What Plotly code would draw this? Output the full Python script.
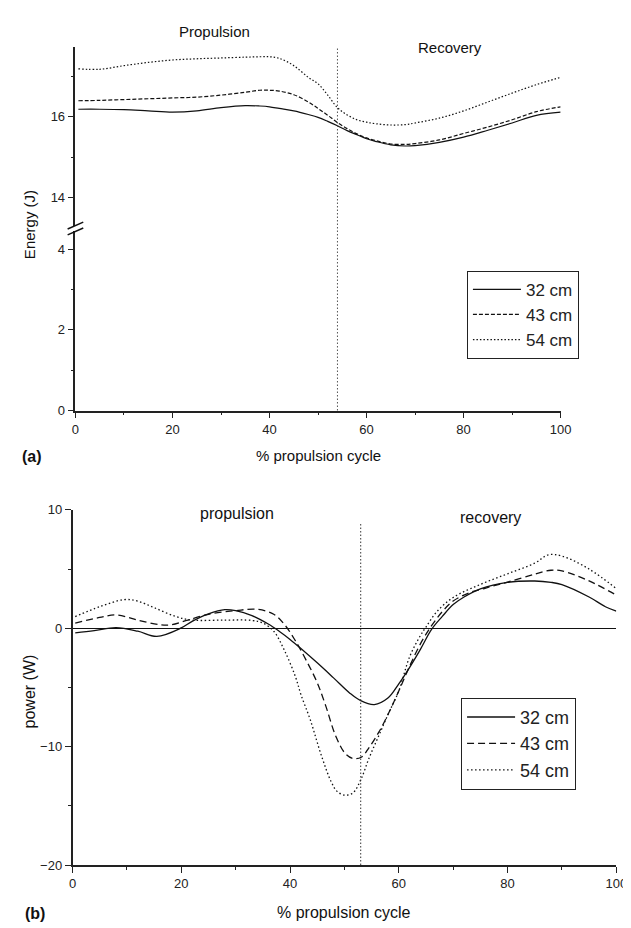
import plotly.graph_objects as go

W, H = 631, 928
FONT = "Liberation Sans, Arial, sans-serif"

# ---------------- data: panel (a) energy ----------------
pct_a = [0.6, 5, 10, 15, 20, 25, 30, 35, 38, 40, 42, 45, 48, 50, 52, 54, 56, 58,
         60, 62, 65, 68, 70, 75, 80, 85, 90, 95, 100]
energy_32 = [16.19, 16.19, 16.18, 16.15, 16.12, 16.15, 16.23, 16.28, 16.27, 16.25,
             16.21, 16.15, 16.06, 15.99, 15.89, 15.78, 15.66, 15.56, 15.46, 15.39,
             15.31, 15.28, 15.29, 15.37, 15.50, 15.67, 15.85, 16.04, 16.12]
energy_43 = [16.40, 16.41, 16.43, 16.45, 16.47, 16.49, 16.54, 16.61, 16.66, 16.66,
             16.64, 16.55, 16.37, 16.21, 16.04, 15.86, 15.71, 15.58, 15.48, 15.41,
             15.33, 15.32, 15.34, 15.43, 15.59, 15.75, 15.93, 16.13, 16.25]
energy_54 = [17.19, 17.18, 17.27, 17.35, 17.41, 17.44, 17.46, 17.48, 17.49, 17.49,
             17.45, 17.27, 16.98, 16.82, 16.54, 16.23, 16.05, 15.93, 15.87, 15.83,
             15.80, 15.81, 15.85, 15.97, 16.15, 16.37, 16.59, 16.80, 16.98]

# ---------------- data: panel (b) power ----------------
p32_x = [0.5, 4, 8, 12, 15.5, 20, 22, 25, 28, 30, 33, 36, 38, 40, 42, 45, 48, 51, 53,
         55.5, 58, 60, 62, 64, 66, 68, 70, 72, 75, 80, 85, 88, 90, 95, 98, 100]
p32_y = [-0.39, -0.2, 0.05, -0.25, -0.69, 0.03, 0.58, 1.21, 1.57, 1.49, 1.07, 0.36,
         -0.25, -0.94, -1.71, -2.92, -4.19, -5.48, -6.12, -6.45, -5.9, -4.7, -3.3,
         -1.76, -0.11, 1.0, 2.0, 2.64, 3.33, 3.88, 3.99, 3.88, 3.69, 2.64, 1.82, 1.45]

p43_x = [0.5, 5, 8, 12, 16, 18, 21, 25, 30, 34, 37, 39, 41, 43, 45, 46.6, 48.4, 50.2,
         51.6, 53.1, 54.5, 56.3, 58.1, 60, 62, 64, 66, 68, 70, 73, 76, 80, 85, 88, 90,
         95, 100]
p43_y = [0.44, 0.91, 1.13, 0.69, 0.30, 0.28, 0.66, 1.18, 1.49, 1.60, 1.18, 0.30, -1.07,
         -2.73, -4.6, -6.6, -9.1, -10.6, -11.0, -10.9, -10.1, -8.8, -7.2, -5.3, -3.2,
         -1.3, 0.2, 1.4, 2.3, 3.0, 3.4, 3.9, 4.57, 4.9, 4.85, 4.0, 2.8]

p54_x = [0.5, 5, 9.5, 12, 15, 19, 22, 28, 33, 35, 37, 39, 41, 42, 43.7, 45.8, 47.6,
         48.7, 50.2, 51.6, 53.1, 54.5, 56.3, 58.1, 60, 62, 64, 65, 67, 70, 75, 80, 85,
         87.5, 90, 95, 100]
p54_y = [0.99, 1.82, 2.42, 2.29, 1.74, 0.99, 0.69, 0.69, 0.66, 0.44, -0.25, -1.9, -4.1,
         -5.6, -7.7, -10.8, -13.0, -13.8, -14.1, -13.9, -12.7, -11.0, -9.1, -7.2, -5.3,
         -2.4, -0.6, 0.1, 1.4, 2.6, 3.7, 4.6, 5.5, 6.2, 6.1, 5.0, 3.35]

series_names = ["32 cm", "43 cm", "54 cm"]
x_ticks = [0, 20, 40, 60, 80, 100]
x_minor = [10, 30, 50, 70, 90]
split_a = 54
split_b = 53


def fx(p):
    return p / W


def fy(p):
    return 1 - p / H


dash_a = ["solid", "4px,2px", "1.5px,2px"]
dash_b = ["solid", "7px,4px", "1.5px,2.5px"]

fig = go.Figure()
# empty trace so that the lower (0-4 J) segment of panel (a) is instantiated
fig.add_trace(go.Scatter(x=[], y=[], xaxis="x", yaxis="y", showlegend=False,
                         hoverinfo="skip"))
for name, ys, d in zip(series_names, [energy_32, energy_43, energy_54], dash_a):
    fig.add_trace(go.Scatter(x=pct_a, y=ys, name=name, mode="lines",
                             line=dict(color="#111", width=1.2, dash=d, shape="spline"),
                             xaxis="x", yaxis="y2", legend="legend"))
for name, xs, ys, d in zip(series_names, [p32_x, p43_x, p54_x], [p32_y, p43_y, p54_y], dash_b):
    fig.add_trace(go.Scatter(x=xs, y=ys, name=name, mode="lines",
                             line=dict(color="#111", width=1.3, dash=d, shape="spline"),
                             xaxis="x2", yaxis="y3", legend="legend2"))

axis_common = dict(showgrid=False, zeroline=False, showline=True, linecolor="#222",
                   linewidth=1.5, ticks="outside", ticklen=6, tickwidth=1.3,
                   tickcolor="#222", tickfont=dict(family=FONT, size=13, color="#222"))

fig.update_layout(
    width=W, height=H, autosize=False,
    margin=dict(l=0, r=0, t=0, b=0),
    paper_bgcolor="white", plot_bgcolor="white",
    font=dict(family=FONT, color="#222"),
    xaxis=dict(domain=[fx(65), fx(562)], anchor="y", range=[0, 100], tickvals=x_ticks,
               minor=dict(ticks="outside", ticklen=3, tickvals=x_minor, tickcolor="#222"),
               **{**axis_common, "linewidth": 1.8}),
    yaxis=dict(domain=[fy(402), fy(220)], anchor="x", range=[0, 4.44], tickvals=[0, 2, 4],
               minor=dict(ticks="outside", ticklen=3, tickvals=[1, 3], tickcolor="#222"),
               **axis_common),
    yaxis2=dict(domain=[fy(214), fy(33)], anchor="x", range=[13.31, 17.72], tickvals=[14, 16],
                minor=dict(ticks="outside", ticklen=3, tickvals=[15, 17], tickcolor="#222"),
                **axis_common),
    xaxis2=dict(domain=[fx(62), fx(619)], anchor="y3", range=[0, 100], tickvals=x_ticks,
                minor=dict(ticks="outside", ticklen=3, tickvals=x_minor, tickcolor="#222"),
                **axis_common),
    yaxis3=dict(domain=[fy(864), fy(503)], anchor="x2", range=[-20, 10],
                tickvals=[-20, -10, 0, 10],
                minor=dict(ticks="outside", ticklen=3, tickvals=[-15, -5, 5], tickcolor="#222"),
                **{**axis_common, "zeroline": True, "zerolinecolor": "#111",
                   "zerolinewidth": 1.3}),
    legend=dict(x=fx(466), y=fy(260), xanchor="left", yanchor="top", bgcolor="white",
                bordercolor="#222", borderwidth=1, font=dict(family=FONT, size=17),
                tracegroupgap=0, itemwidth=48),
    legend2=dict(x=fx(460), y=fy(694), xanchor="left", yanchor="top", bgcolor="white",
                 bordercolor="#222", borderwidth=1, font=dict(family=FONT, size=18),
                 tracegroupgap=0, itemwidth=48),
    showlegend=True,
)

# phase split lines
fig.add_shape(type="line", xref="x", yref="paper", x0=split_a, x1=split_a,
              y0=fy(402), y1=fy(33), line=dict(color="#555", width=1, dash="1.5px,2px"))
fig.add_shape(type="line", xref="x2", yref="paper", x0=split_b, x1=split_b,
              y0=fy(864), y1=fy(516), line=dict(color="#333", width=1, dash="1.5px,2px"))

# axis break marks
for yc in (214, 220):
    fig.add_shape(type="line", xref="paper", yref="paper",
                  x0=fx(57), y0=fy(yc + 3.5), x1=fx(73), y1=fy(yc - 3.5),
                  line=dict(color="#111", width=1.5))

ann = []
ann.append(dict(text="Propulsion", xref="x", x=28.6, yref="paper", y=fy(17), font=dict(size=15)))
ann.append(dict(text="Recovery", xref="x", x=77.2, yref="paper", y=fy(33), font=dict(size=15)))
ann.append(dict(text="propulsion", xref="x2", x=30.3, yref="paper", y=fy(507), font=dict(size=16)))
ann.append(dict(text="recovery", xref="x2", x=76.8, yref="paper", y=fy(511), font=dict(size=16)))
ann.append(dict(text="% propulsion cycle", xref="x domain", x=0.5, yref="paper", y=fy(448),
                font=dict(size=15)))
ann.append(dict(text="% propulsion cycle", xref="x2 domain", x=0.5, yref="paper", y=fy(912),
                font=dict(size=16)))
ann.append(dict(text="<b>(a)</b>", xref="paper", x=fx(20), yref="paper", y=fy(449),
                font=dict(size=16)))
ann.append(dict(text="<b>(b)</b>", xref="paper", x=fx(24), yref="paper", y=fy(913),
                font=dict(size=16)))
ann.append(dict(text="Energy (J)", xref="paper", x=fx(18), yref="paper", y=fy(213),
                textangle=-90, font=dict(size=15)))
ann.append(dict(text="power (W)", xref="paper", x=fx(18), yref="paper", y=fy(688),
                textangle=-90, font=dict(size=16)))
for a in ann:
    a.setdefault("showarrow", False)
    a["font"] = dict(family=FONT, color="#111", **a["font"])
    a.setdefault("xanchor", "center")
    a.setdefault("yanchor", "middle")
    fig.add_annotation(**a)

fig.write_html("out.html")
